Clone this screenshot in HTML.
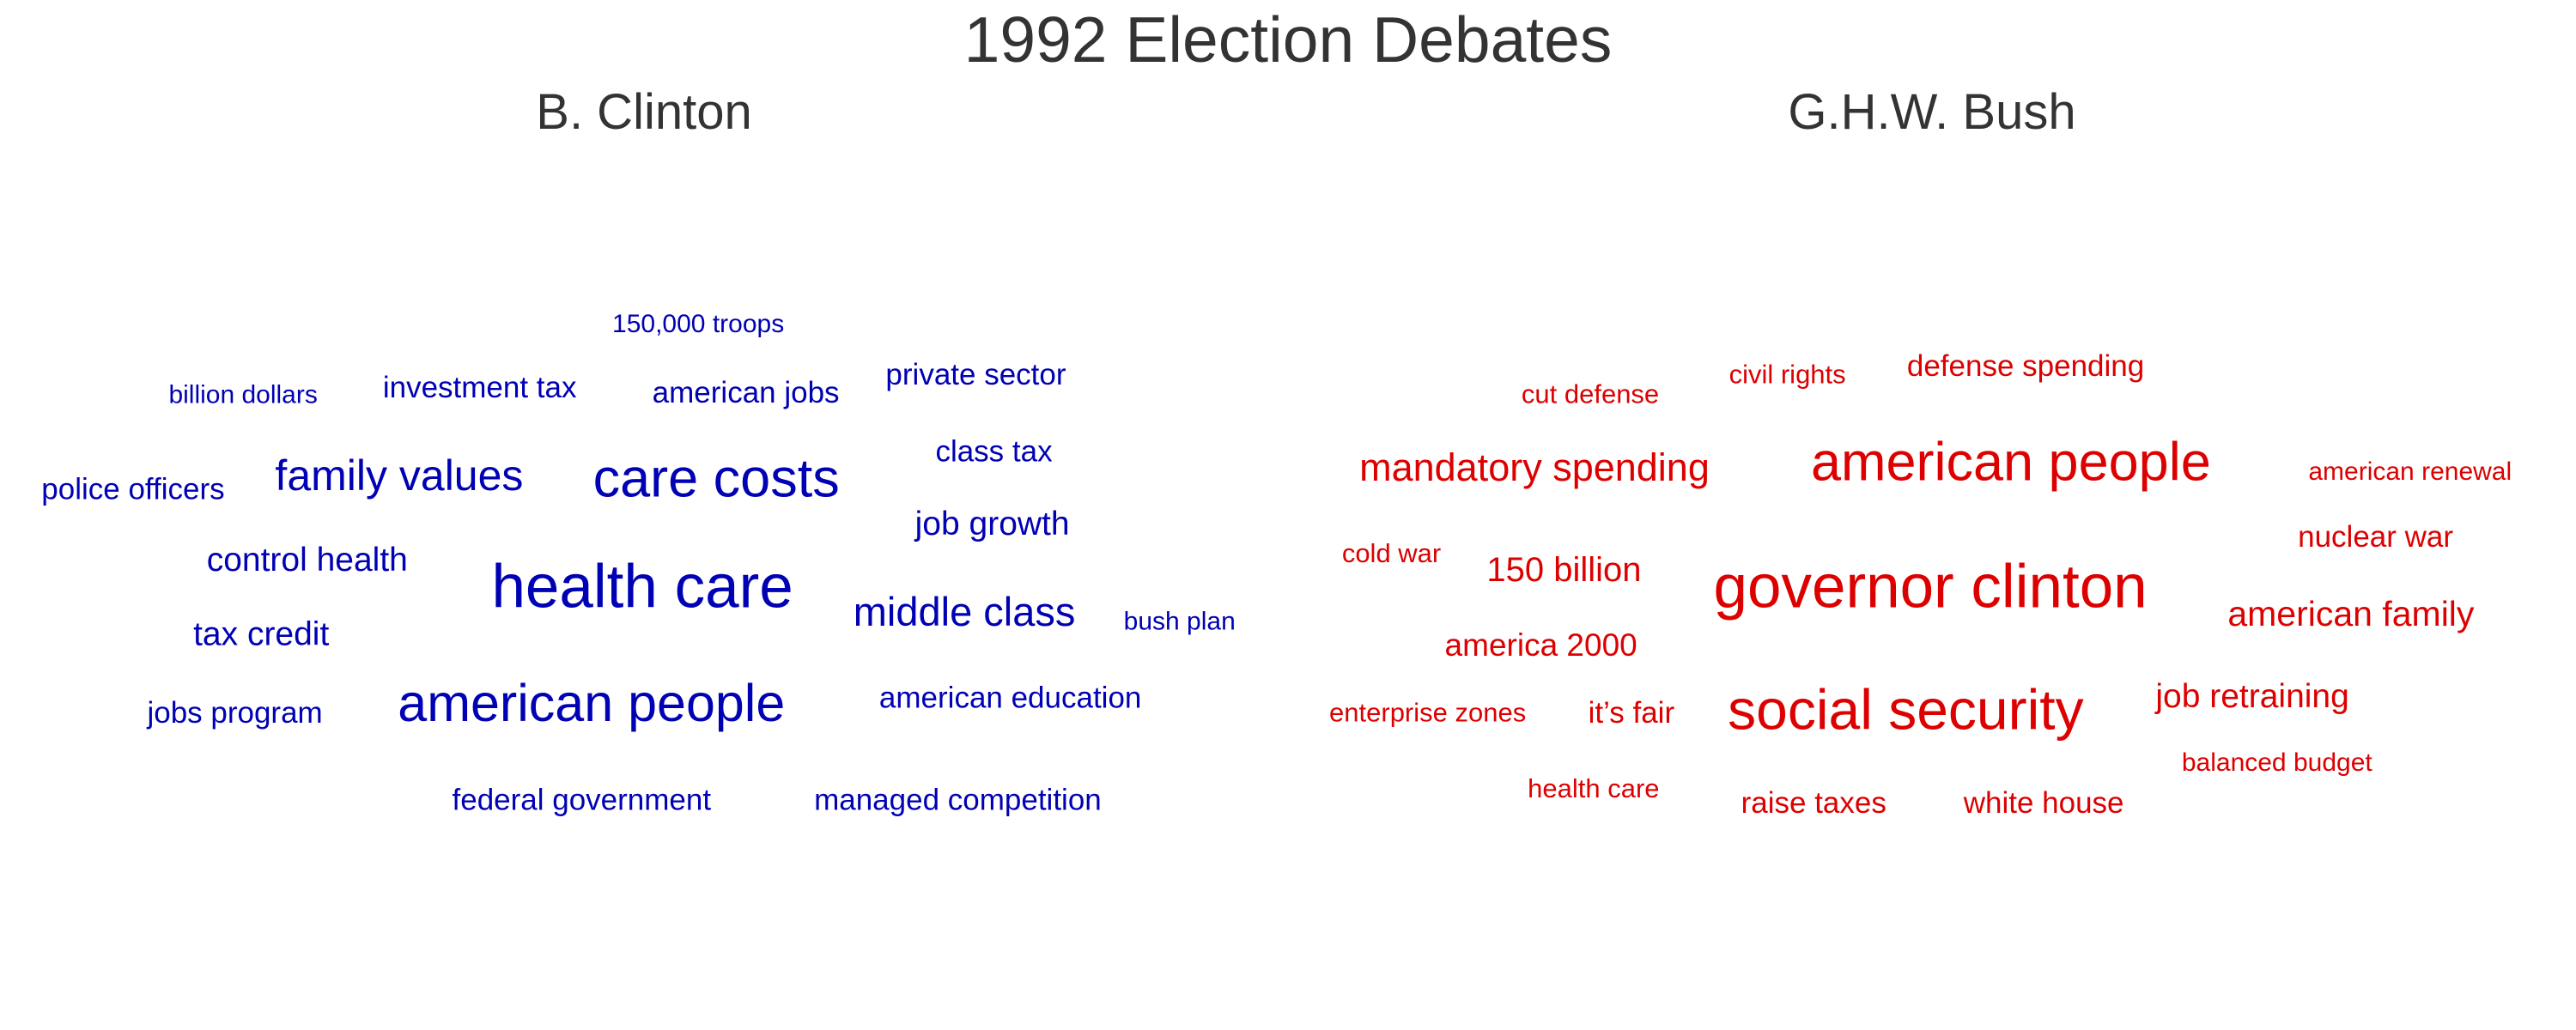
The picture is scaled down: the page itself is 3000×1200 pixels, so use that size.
<!DOCTYPE html>
<html><head><meta charset="utf-8"><style>
html,body{margin:0;padding:0;background:#fff;}
svg{display:block;}
text{font-family:"Liberation Sans",Arial,sans-serif;}
</style></head><body>
<svg id="chart" width="3000" height="1200" viewBox="0 0 3000 1200" xmlns="http://www.w3.org/2000/svg">
<text x="1500" y="72" font-size="75" fill="#333" text-anchor="middle">1992 Election Debates</text>
<text x="750" y="150" font-size="58" fill="#333" text-anchor="middle">B. Clinton</text>
<text x="2250" y="150" font-size="58" fill="#333" text-anchor="middle">G.H.W. Bush</text>
<g id="clinton"></g>
<g id="bush"></g>
</svg>
<script>
const clintonWords = ["150,000 troops","billion dollars","investment tax","american jobs","private sector","class tax","police officers","family values","care costs","job growth","control health","health care","middle class","bush plan","tax credit","american people","american education","jobs program","federal government","managed competition"];
const clintonX = [425,148,292,454,594,605,81,243,436,604,187,391,587,718,159,360,615,143,354,583];
const clintonY = [196,239,235,238,227,274,297,289,291,318,340,357,372,377,385,428,424,433,486,486];
const clintonSize = [30,30,35,35,35,35,35,50,63,39,39,71,47,30,39,61,35,35,35,35];

const bushWords = ["cut defense","civil rights","defense spending","mandatory spending","american people","american renewal","nuclear war","cold war","150 billion","governor clinton","american family","america 2000","enterprise zones","it’s fair","social security","job retraining","balanced budget","health care","raise taxes","white house"];
const bushX = [968,1088,1233,934,1224,1467,1446,847,952,1175,1431,938,869,993,1160,1371,1386,970,1104,1244];
const bushY = [239,227,222,284,281,286,326,336,346,357,373,392,433,433,432,423,463,479,488,488];
const bushSize = [31,31,35,45,63,30,35,31,40,71,41,37,31,35,66,39,30,31,35,35];

const S = 3000/1568;
function sx(v){return v*S;}
function sy(v){return v*S + 3;}
function draw(gid, words, xs, ys, sizes, color, prefix){
  const g = document.getElementById(gid);
  for(let i=0;i<words.length;i++){
    const t = document.createElementNS("http://www.w3.org/2000/svg","text");
    t.setAttribute("x", sx(xs[i]));
    t.setAttribute("y", sy(ys[i]) + 0.3*sizes[i]);
    t.setAttribute("font-size", sizes[i]);
    t.setAttribute("fill", color);
    t.setAttribute("text-anchor","middle");
    t.textContent = words[i];
    
    
    g.appendChild(t);
  }
}
draw("clinton", clintonWords, clintonX, clintonY, clintonSize, "#0000b4", "clinton-word");
draw("bush", bushWords, bushX, bushY, bushSize, "#dd0000", "bush-word");
</script>
</body></html>
